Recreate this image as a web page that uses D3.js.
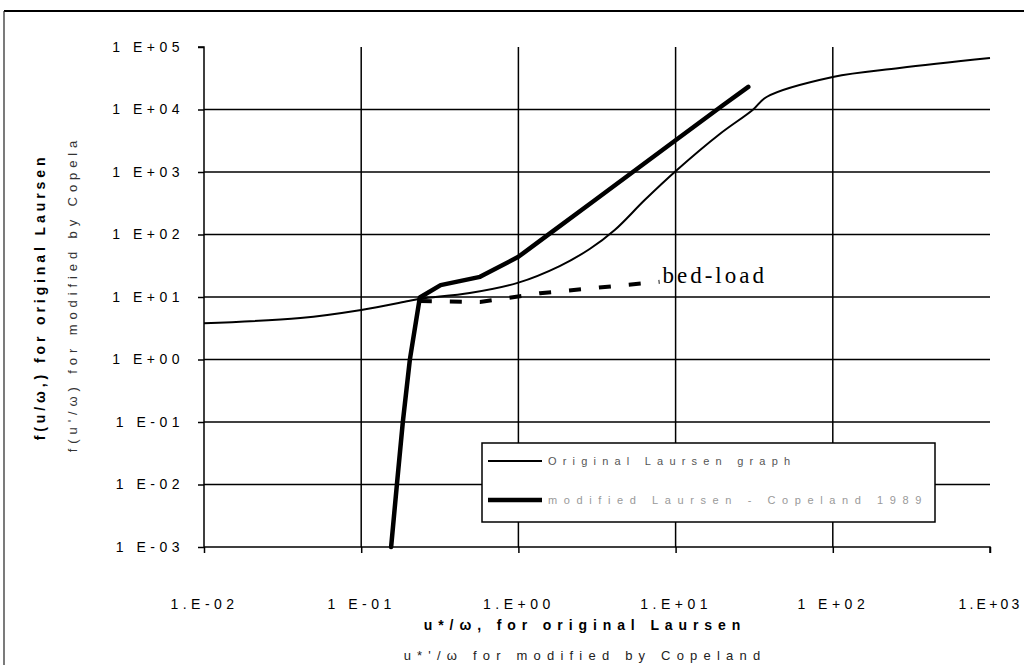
<!DOCTYPE html>
<html>
<head>
<meta charset="utf-8">
<script src="https://cdn.jsdelivr.net/npm/d3@7"></script>
<style>
  html, body { margin: 0; padding: 0; background: #fff; }
  svg { display: block; }
</style>
</head>
<body>
<svg id="chart" width="1024" height="665"></svg>
<script>
// Laursen sediment transport function, original and modified curves
const xTickValues = [0.01, 0.1, 1, 10, 100, 1000];
const xTickLabels = ["1.E-02", "1 E-01", "1.E+00", "1.E+01", "1 E+02", "1.E+03"];
const yTickValues = [1e5, 1e4, 1e3, 1e2, 1e1, 1e0, 1e-1, 1e-2, 1e-3];
const yTickLabels = ["1 E+05", "1 E+04", "1 E+03", "1 E+02", "1 E+01", "1 E+00", "1 E-01", "1 E-02", "1 E-03"];

const originalX = [0.01, 0.041, 0.1, 0.2, 0.24, 0.49, 1.0, 1.83, 2.84, 4.1, 6.36, 10.2, 19.1, 30.9, 37.9, 100, 266, 1000];
const originalY = [3.8, 4.6, 6.2, 8.6, 9.4, 11.6, 17, 31.3, 58.6, 118, 356, 1076, 4055, 9820, 15850, 33100, 46100, 66700];

const modifiedX = [0.155, 0.169, 0.184, 0.204, 0.236, 0.32, 0.57, 1.0, 1.66, 3, 10, 20, 29];
const modifiedY = [0.001, 0.0105, 0.1, 1, 9.8, 15.5, 21, 44, 113, 340, 3220, 11700, 23000];

const bedLoadX = [0.236, 0.57, 1.37, 7.9];
const bedLoadY = [8.6, 8.3, 11.5, 17.5];

const seriesNames = ["Original Laursen graph", "modified Laursen - Copeland 1989"];

const svg = d3.select("#chart");
const plotLeft = 204, plotRight = 990, plotTop = 47, plotBottom = 547;

const x = d3.scaleLog().domain([0.01, 1000]).range([plotLeft, plotRight]);
const y = d3.scaleLog().domain([0.001, 100000]).range([plotBottom, plotTop]);

const tickFont = "'Liberation Sans', Arial, sans-serif";

// outer frame
svg.append("line").attr("x1", 4).attr("x2", 1024).attr("y1", 11).attr("y2", 11)
  .attr("stroke", "#000").attr("stroke-width", 2);
svg.append("line").attr("x1", 4).attr("x2", 4).attr("y1", 11).attr("y2", 665)
  .attr("stroke", "#222").attr("stroke-width", 1.2);

// grid
const grid = svg.append("g").attr("stroke", "#000").attr("stroke-width", 1.5);
yTickValues.filter(v => v < 1e5 && v > 1e-3).forEach(v => {
  grid.append("line").attr("x1", plotLeft).attr("x2", plotRight)
    .attr("y1", y(v)).attr("y2", y(v));
});
xTickValues.filter(v => v > 0.01 && v < 1000).forEach(v => {
  grid.append("line").attr("x1", x(v)).attr("x2", x(v))
    .attr("y1", plotTop).attr("y2", plotBottom);
});

// axes
const yAxis = d3.axisLeft(y).tickValues(yTickValues)
  .tickFormat((d, i) => yTickLabels[i]).tickSize(6).tickPadding(14);
const gy = svg.append("g").attr("transform", `translate(${plotLeft},0)`).call(yAxis);
gy.select(".domain").attr("stroke-width", 1.5).attr("d", `M-6,${plotTop}H0V${plotBottom}`);
gy.selectAll(".tick line").attr("stroke-width", 1.5);
gy.selectAll(".tick text").attr("font-family", tickFont).attr("font-size", 14)
  .attr("letter-spacing", "4.5px").attr("fill", "#000");

const xAxis = d3.axisBottom(x).tickValues(xTickValues)
  .tickFormat((d, i) => xTickLabels[i]).tickSize(6).tickPadding(56);
const gx = svg.append("g").attr("transform", `translate(0,${plotBottom})`).call(xAxis);
gx.select(".domain").attr("stroke-width", 1.5).attr("d", `M${plotLeft},0H${plotRight}V6`);
gx.selectAll(".tick line").attr("stroke-width", 1.5);
gx.selectAll(".tick text").attr("font-family", tickFont).attr("font-size", 14)
  .attr("letter-spacing", (d, i) => i === xTickValues.length - 1 ? "3.2px" : "4.5px")
  .attr("fill", "#000").attr("dy", 0);

// curves
const smooth = d3.line().x(d => x(d[0])).y(d => y(d[1])).curve(d3.curveCatmullRom.alpha(0.5));
const straight = d3.line().x(d => x(d[0])).y(d => y(d[1]));

svg.append("path").datum(d3.zip(originalX, originalY))
  .attr("d", smooth).attr("fill", "none").attr("stroke", "#000").attr("stroke-width", 2);

svg.append("path").datum(d3.zip(modifiedX, modifiedY))
  .attr("d", straight).attr("fill", "none").attr("stroke", "#000")
  .attr("stroke-width", 4.5).attr("stroke-linejoin", "round").attr("stroke-linecap", "round");

svg.append("path").datum(d3.zip(bedLoadX, bedLoadY))
  .attr("d", straight).attr("fill", "none").attr("stroke", "#000")
  .attr("stroke-width", 4).attr("stroke-dasharray", "12 18");

svg.append("text").attr("x", x(bedLoadX[bedLoadX.length - 1]) + 3)
  .attr("y", y(bedLoadY[bedLoadY.length - 1]) + 1)
  .attr("font-family", "'Liberation Serif', 'Times New Roman', serif")
  .attr("font-size", 23).attr("letter-spacing", "3px").attr("fill", "#000").text("bed-load");

// legend
const lg = svg.append("g");
lg.append("rect").attr("x", 482).attr("y", 443).attr("width", 453).attr("height", 79)
  .attr("fill", "#fff").attr("stroke", "#000").attr("stroke-width", 1.5);
[[461, 2, "#555"], [500, 4.5, "#999"]].forEach(([yy, w, col], i) => {
  lg.append("line").attr("x1", 488).attr("x2", 542).attr("y1", yy).attr("y2", yy)
    .attr("stroke", "#000").attr("stroke-width", w);
  lg.append("text").attr("x", 548).attr("y", yy + 4)
    .attr("font-family", tickFont).attr("font-size", 11)
    .attr("letter-spacing", i === 0 ? "6.2px" : "6.6px")
    .attr("fill", col).text(seriesNames[i]);
});

// axis titles
const cx = 585;
svg.append("text").attr("x", cx).attr("y", 630).attr("text-anchor", "middle")
  .attr("font-family", tickFont).attr("font-size", 14).attr("font-weight", "bold")
  .attr("letter-spacing", "5.9px").text("u*/ω, for original Laursen");
svg.append("text").attr("x", cx).attr("y", 660).attr("text-anchor", "middle")
  .attr("font-family", tickFont).attr("font-size", 13).attr("fill", "#222")
  .attr("letter-spacing", "6.2px").text("u*'/ω for modified by Copeland");

svg.append("text").attr("transform", "translate(45,297) rotate(-90)").attr("text-anchor", "middle")
  .attr("font-family", tickFont).attr("font-size", 14).attr("font-weight", "bold")
  .attr("letter-spacing", "3.9px").text("f(u/ω,) for original Laursen");
svg.append("text").attr("transform", "translate(77,294) rotate(-90)").attr("text-anchor", "middle")
  .attr("font-family", tickFont).attr("font-size", 13).attr("fill", "#333")
  .attr("letter-spacing", "4.9px").text("f(u'/ω) for modified by Copela");
</script>
</body>
</html>
